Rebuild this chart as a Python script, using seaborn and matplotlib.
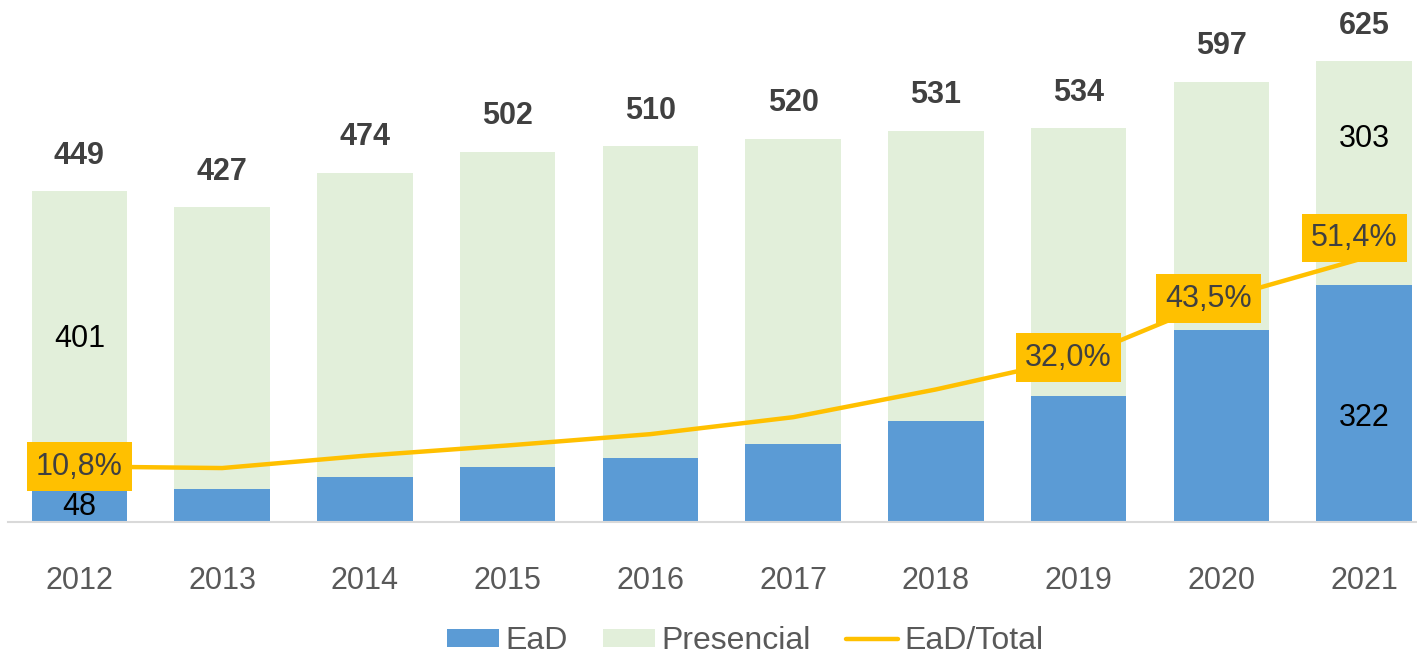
import numpy as np
import matplotlib
matplotlib.use("Agg")
import matplotlib.pyplot as plt
import seaborn as sns
from matplotlib.patches import Patch
from matplotlib.lines import Line2D

years = ["2012", "2013", "2014", "2015", "2016", "2017", "2018", "2019", "2020", "2021"]
total = [449, 427, 474, 502, 510, 520, 531, 534, 597, 625]
ead = [48, 45, 61, 75, 87, 106, 137, 171, 260, 322]
ead_pct = [10.8, 10.5, 12.9, 14.9, 17.1, 20.4, 25.8, 32.0, 43.5, 51.4]
pct_labels = {0: "10,8%", 7: "32,0%", 8: "43,5%", 9: "51,4%"}
segment_labels = [0, 9]

BLUE = "#5B9BD5"
GREEN = "#E2EFDA"
GOLD = "#FFC000"
GRAY = "#595959"

sns.set_theme(style="white")
plt.rcParams["font.family"] = ["Liberation Sans", "DejaVu Sans"]

fig = plt.figure(figsize=(14.17, 6.55), dpi=100)
ax = fig.add_axes([8 / 1417, 133 / 655, 1409 / 1417, 522 / 655])

sns.barplot(x=years, y=total, color=GREEN, width=0.67, saturation=1, linewidth=0, ax=ax)
sns.barplot(x=years, y=ead, color=BLUE, width=0.67, saturation=1, linewidth=0, ax=ax)

ax.set_xlim(-0.5, 9.37)
ax.set_ylim(0, 708)
ax.set_yticks([])
ax.set_ylabel("")
for s in ["top", "left", "right"]:
    ax.spines[s].set_visible(False)
ax.spines["bottom"].set_color("#D9D9D9")
ax.spines["bottom"].set_linewidth(1.5)
ax.tick_params(axis="x", length=0, pad=32, labelsize=22, labelcolor=GRAY)

# totals on top
for i, t in enumerate(total):
    ax.text(i, t + 48, str(t), ha="center", va="center", fontsize=22,
            fontweight="bold", color="#404040")

# segment values
for i in segment_labels:
    pres = total[i] - ead[i]
    if i == 0:
        ax.text(i, ead[i] + pres / 2, str(pres), ha="center", va="center", fontsize=22, color="black")
        ax.text(i, ead[i] / 2 - 3, str(ead[i]), ha="center", va="center", fontsize=22, color="black")
    else:
        ax.text(i, total[i] - pres * 0.35, str(pres), ha="center", va="center", fontsize=22, color="black")
        ax.text(i, ead[i] * 0.44, str(ead[i]), ha="center", va="center", fontsize=22, color="black")

ax2 = ax.twinx()
sns.lineplot(x=np.arange(len(years)), y=ead_pct, color=GOLD, linewidth=3.2, ax=ax2)
ax2.set_ylim(0, 101.6)
ax2.set_yticks([])
ax2.set_xlim(ax.get_xlim())
for s in ax2.spines.values():
    s.set_visible(False)

offsets = {0: (0, 0), 7: (-0.07, 0), 8: (-0.09, 0), 9: (-0.07, 3.9)}
for i, lab in pct_labels.items():
    dx, dy = offsets[i]
    ax2.text(i + dx, ead_pct[i] + dy, lab, ha="center", va="center", fontsize=22, color="#404040",
             bbox=dict(boxstyle="square,pad=0.3", facecolor=GOLD, edgecolor="none"), zorder=5)

handles = [Patch(facecolor=BLUE, edgecolor="none"), Patch(facecolor=GREEN, edgecolor="none"),
           Line2D([0], [0], color=GOLD, linewidth=3.2)]
fig.legend(handles, ["EaD", "Presencial", "EaD/Total"], loc="center", ncol=3,
           frameon=False, fontsize=23, bbox_to_anchor=(0.526, 0.021), handlelength=1.63,
           handleheight=0.47, handletextpad=0.2, columnspacing=1.1, labelcolor=GRAY,
           borderpad=0)

fig.savefig("out.png", dpi=100)
